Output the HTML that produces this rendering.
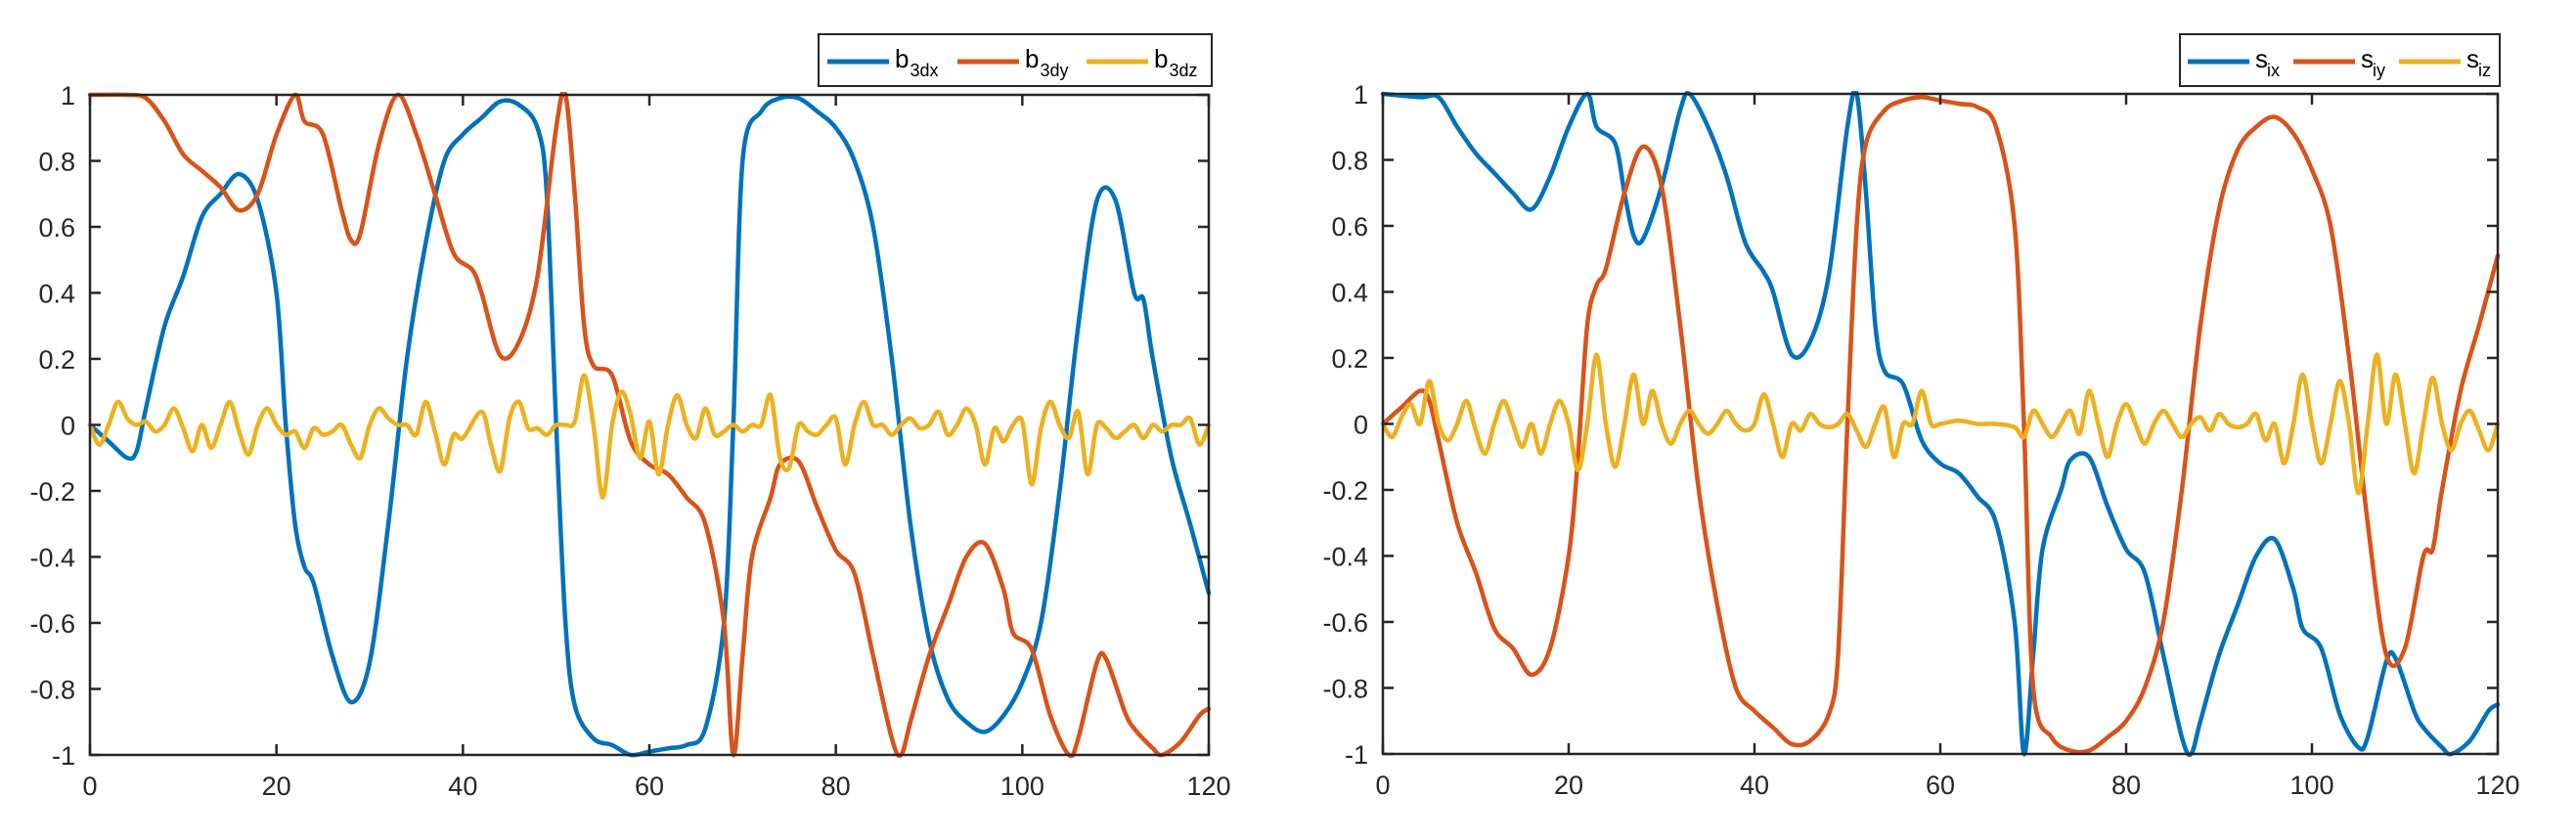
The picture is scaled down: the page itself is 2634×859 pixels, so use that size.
<!DOCTYPE html>
<html><head><meta charset="utf-8"><style>
html,body{margin:0;padding:0;background:#fff;}
svg{display:block;font-family:"Liberation Sans",sans-serif;}
</style></head><body>
<svg id="chart" width="2634" height="859" viewBox="0 0 2634 859" xmlns="http://www.w3.org/2000/svg"></svg>
<script>
const xTicks=[0,20,40,60,80,100,120];
const yTicks=[-1,-0.8,-0.6,-0.4,-0.2,0,0.2,0.4,0.6,0.8,1];
const yTickLabels=["-1","-0.8","-0.6","-0.4","-0.2","0","0.2","0.4","0.6","0.8","1"];
const b3dx=[[0,0],[2,-0.05],[4,-0.1],[5,-0.08],[6,0.05],[8,0.3],[10,0.45],[12,0.63],[14,0.7],[16,0.76],[18,0.68],[20,0.4],[21,0.0],[22,-0.3],[23,-0.43],[24,-0.48],[26,-0.7],[28,-0.84],[30,-0.72],[32,-0.3],[34,0.2],[36,0.55],[38,0.8],[40,0.88],[42,0.93],[44,0.98],[46,0.97],[48,0.9],[49,0.7],[50,0.0],[51,-0.6],[52,-0.85],[54,-0.95],[56,-0.97],[58,-1.0],[60,-0.99],[62,-0.98],[64,-0.97],[66,-0.92],[68,-0.6],[69,0.0],[70,0.8],[72,0.95],[74,0.99],[76,0.99],[78,0.95],[80,0.9],[82,0.8],[84,0.6],[86,0.2],[88,-0.3],[90,-0.65],[92,-0.83],[94,-0.9],[96,-0.93],[98,-0.88],[100,-0.78],[102,-0.6],[104,-0.2],[106,0.3],[108,0.68],[110,0.68],[112,0.4],[113,0.38],[114,0.2],[116,-0.1],[118,-0.3],[120,-0.51]];
const b3dy=[[0,1],[4,1],[6,0.99],[8,0.92],[10,0.82],[12,0.77],[14,0.72],[16,0.65],[18,0.7],[20,0.88],[22,1.0],[23,0.92],[25,0.88],[27,0.65],[28,0.56],[29,0.58],[31,0.85],[33,1.0],[35,0.88],[37,0.7],[39,0.52],[41,0.47],[42,0.4],[44,0.21],[46,0.25],[48,0.45],[50,0.9],[51,1.0],[52,0.7],[53,0.3],[54,0.18],[56,0.15],[58,-0.05],[60,-0.12],[62,-0.15],[64,-0.22],[66,-0.3],[68,-0.6],[69,-1.0],[70,-0.7],[71,-0.4],[73,-0.22],[74,-0.12],[76,-0.11],[78,-0.25],[80,-0.38],[82,-0.45],[84,-0.7],[86,-0.95],[87,-1.0],[88,-0.9],[90,-0.7],[92,-0.55],[94,-0.4],[96,-0.36],[98,-0.5],[99,-0.63],[101,-0.68],[103,-0.88],[105,-1.0],[106,-0.95],[108,-0.72],[109,-0.71],[111,-0.87],[112,-0.92],[114,-0.98],[115,-1.0],[117,-0.96],[119,-0.88],[120,-0.86]];
const b3dz=[[0,0],[1,-0.06],[2,0.0],[3,0.07],[4,0.02],[5,0.0],[6,0.01],[7,-0.02],[8,0.0],[9,0.05],[10,-0.01],[11,-0.08],[12,0.0],[13,-0.07],[14,0.0],[15,0.07],[16,-0.02],[17,-0.09],[18,0.0],[19,0.05],[20,0.0],[21,-0.03],[22,-0.02],[23,-0.07],[24,-0.01],[25,-0.03],[26,-0.02],[27,0.0],[28,-0.06],[29,-0.1],[30,0.0],[31,0.05],[32,0.02],[33,0.0],[34,0.0],[35,-0.03],[36,0.07],[37,-0.02],[38,-0.12],[39,-0.03],[40,-0.04],[42,0.04],[43,-0.06],[44,-0.14],[45,0.02],[46,0.07],[47,-0.01],[48,-0.01],[49,-0.03],[50,0.0],[51,0.0],[52,0.01],[53,0.15],[54,0.0],[55,-0.22],[56,0.0],[57,0.1],[58,0.03],[59,-0.1],[60,0.01],[61,-0.15],[62,0.0],[63,0.09],[64,0.0],[65,-0.04],[66,0.05],[67,-0.03],[68,-0.02],[69,0.0],[70,-0.02],[71,0.0],[72,0.0],[73,0.09],[74,-0.1],[75,-0.13],[76,0.0],[77,-0.02],[78,-0.03],[79,0.0],[80,0.02],[81,-0.12],[82,0.0],[83,0.07],[84,0.0],[85,0.0],[86,-0.03],[87,0.0],[88,0.02],[89,-0.01],[90,0.0],[91,0.04],[92,-0.03],[93,0.0],[94,0.05],[95,0.0],[96,-0.12],[97,-0.01],[98,-0.05],[99,0.0],[100,0.01],[101,-0.18],[102,-0.01],[103,0.07],[104,0.0],[105,-0.04],[106,0.04],[107,-0.15],[108,0.0],[109,-0.01],[110,-0.04],[111,-0.02],[112,0.0],[113,-0.04],[114,0.0],[115,-0.02],[116,0.0],[117,0.0],[118,0.02],[119,-0.06],[120,0.0]];
const six=[[0,1],[4,0.99],[6,0.99],[8,0.9],[10,0.82],[12,0.76],[14,0.7],[16,0.65],[18,0.75],[20,0.9],[22,1.0],[23,0.9],[25,0.85],[26,0.7],[27,0.57],[28,0.56],[30,0.72],[32,0.95],[33,1.0],[35,0.9],[37,0.75],[39,0.55],[41,0.46],[42,0.4],[44,0.21],[46,0.25],[48,0.45],[50,0.9],[51,1.0],[52,0.7],[53,0.3],[54,0.16],[56,0.12],[58,-0.05],[60,-0.12],[62,-0.15],[64,-0.22],[66,-0.3],[68,-0.6],[69,-1.0],[70,-0.7],[71,-0.38],[73,-0.2],[74,-0.11],[76,-0.1],[78,-0.25],[80,-0.38],[82,-0.45],[84,-0.7],[86,-0.95],[87,-1.0],[88,-0.9],[90,-0.7],[92,-0.55],[94,-0.4],[96,-0.35],[98,-0.5],[99,-0.62],[101,-0.68],[103,-0.88],[105,-0.98],[106,-0.95],[108,-0.72],[109,-0.71],[111,-0.87],[112,-0.92],[114,-0.98],[115,-1.0],[117,-0.96],[119,-0.87],[120,-0.85]];
const siy=[[0,0],[2,0.05],[4,0.1],[5,0.07],[6,-0.05],[8,-0.3],[10,-0.45],[12,-0.62],[14,-0.68],[16,-0.76],[18,-0.68],[20,-0.4],[21,-0.1],[22,0.3],[23,0.42],[24,0.47],[26,0.7],[28,0.84],[30,0.72],[32,0.3],[34,-0.2],[36,-0.55],[38,-0.8],[40,-0.87],[42,-0.92],[44,-0.97],[46,-0.96],[48,-0.88],[49,-0.7],[50,0.0],[51,0.6],[52,0.85],[54,0.95],[56,0.98],[58,0.99],[60,0.98],[62,0.97],[64,0.96],[66,0.9],[68,0.6],[69,0.0],[70,-0.8],[72,-0.95],[74,-0.99],[76,-0.99],[78,-0.95],[80,-0.9],[82,-0.8],[84,-0.6],[86,-0.2],[88,0.3],[90,0.65],[92,0.83],[94,0.9],[96,0.93],[98,0.88],[100,0.77],[102,0.6],[104,0.2],[106,-0.3],[108,-0.7],[110,-0.68],[112,-0.4],[113,-0.38],[114,-0.2],[116,0.1],[118,0.3],[120,0.51]];
const siz=[[0,0],[1,-0.04],[2,0.02],[3,0.06],[4,0.0],[5,0.13],[6,0.0],[7,-0.05],[8,0.0],[9,0.07],[10,-0.02],[11,-0.09],[12,0.0],[13,0.07],[14,0.0],[15,-0.07],[16,0.0],[17,-0.09],[18,0.0],[19,0.07],[20,0.0],[21,-0.14],[22,0.0],[23,0.21],[24,0.0],[25,-0.13],[26,0.0],[27,0.15],[28,0.0],[29,0.1],[30,0.0],[31,-0.06],[32,0.0],[33,0.04],[34,0.0],[35,-0.03],[36,0.0],[37,0.04],[38,0.0],[39,-0.02],[40,0.0],[41,0.09],[42,0.0],[43,-0.1],[44,0.0],[45,-0.02],[46,0.03],[47,0.0],[48,-0.01],[49,0.0],[50,0.03],[51,-0.02],[52,-0.07],[53,0.0],[54,0.05],[55,-0.1],[56,0.0],[57,0.0],[58,0.1],[59,0.0],[60,0.0],[62,0.01],[64,0.0],[66,0.0],[68,-0.01],[69,-0.04],[70,0.04],[71,0.0],[72,-0.04],[73,0.0],[74,0.04],[75,-0.03],[76,0.1],[77,0.0],[78,-0.1],[79,0.0],[80,0.06],[81,0.0],[82,-0.06],[83,0.0],[84,0.04],[85,0.0],[86,-0.04],[87,0.0],[88,0.02],[89,-0.02],[90,0.03],[91,0.0],[92,-0.01],[93,0.0],[94,0.03],[95,-0.05],[96,0.0],[97,-0.12],[98,0.0],[99,0.15],[100,0.0],[101,-0.12],[102,0.0],[103,0.13],[104,0.0],[105,-0.21],[106,0.0],[107,0.21],[108,0.0],[109,0.15],[110,0.0],[111,-0.15],[112,0.0],[113,0.14],[114,0.0],[115,-0.08],[116,0.0],[117,0.04],[118,-0.02],[119,-0.08],[120,0.0]];

const NS="http://www.w3.org/2000/svg";
const svg=document.getElementById('chart');
function mk(tag,attrs,parent){const e=document.createElementNS(NS,tag);for(const k in attrs)e.setAttribute(k,attrs[k]);(parent||svg).appendChild(e);return e;}
function smooth(pts){
  if(pts.length<2)return '';
  let d='M'+pts[0][0].toFixed(1)+','+pts[0][1].toFixed(1);
  for(let i=0;i<pts.length-1;i++){
    const p0=pts[i-1]||pts[i],p1=pts[i],p2=pts[i+1],p3=pts[i+2]||p2;
    const t=0.16;
    const c1x=p1[0]+(p2[0]-p0[0])*t,c1y=p1[1]+(p2[1]-p0[1])*t;
    const c2x=p2[0]-(p3[0]-p1[0])*t,c2y=p2[1]-(p3[1]-p1[1])*t;
    d+=' C'+c1x.toFixed(1)+','+c1y.toFixed(1)+' '+c2x.toFixed(1)+','+c2y.toFixed(1)+' '+p2[0].toFixed(1)+','+p2[1].toFixed(1);
  }
  return d;
}
const colors=['#0072BD','#D95319','#EDB120'];
function panel(cfg){
  const g=mk('g',{});
  
  
  const L=cfg.l,R=cfg.r,T=cfg.t,B=cfg.b;
  const sx=v=>L+(v-0)/(120-0)*(R-L);
  const sy=v=>B-(v+1)/2*(B-T);
  const defs=mk('defs',{},g);
  const cp=mk('clipPath',{id:cfg.name+'-clip'},defs);
  mk('rect',{x:L-3,y:T-3,width:R-L+6,height:B-T+6},cp);
  const sg=mk('g',{'clip-path':'url(#'+cfg.name+'-clip)'},g);
  cfg.series.forEach((s,i)=>{
    const p=mk('path',{d:smooth(s.data.map(q=>[sx(q[0]),sy(q[1])])),fill:'none',stroke:colors[i],'stroke-width':4.5,'stroke-linejoin':'round','stroke-linecap':'round'},sg);
    
    
  });
  const ax=mk('g',{stroke:'#262626','stroke-width':2.5,fill:'none'},g);
  
  
  mk('rect',{x:L,y:T,width:R-L,height:B-T},ax);
  xTicks.forEach(v=>{
    const x=sx(v);
    mk('line',{x1:x,y1:B,x2:x,y2:B-11},ax);
    mk('line',{x1:x,y1:T,x2:x,y2:T+11},ax);
    const t=mk('text',{x:x,y:B+41,'text-anchor':'middle','font-size':27,fill:'#262626'},g);
    t.textContent=String(v);
    
    
  });
  yTicks.forEach((v,i)=>{
    const y=sy(v);
    mk('line',{x1:L,y1:y,x2:L+11,y2:y},ax);
    mk('line',{x1:R,y1:y,x2:R-11,y2:y},ax);
    const t=mk('text',{x:L-15,y:y+10,'text-anchor':'end','font-size':27,fill:'#262626'},g);
    t.textContent=yTickLabels[i];
    
    
  });
  const lg=mk('g',{},g);
  
  
  mk('rect',{x:cfg.lg.x,y:35,width:cfg.lg.w,height:53,fill:'#fff',stroke:'#262626','stroke-width':2},lg);
  cfg.series.forEach((s,i)=>{
    const x0=cfg.lg.pos[i];
    const e=mk('g',{},lg);
    
    
    mk('line',{x1:x0,y1:63,x2:x0+63,y2:63,stroke:colors[i],'stroke-width':5},e);
    const t=mk('text',{x:x0+69,y:69,'font-size':26,fill:'#000'},e);
    t.textContent=s.main;
    const sub=mk('tspan',{dy:9,'font-size':18,dx:cfg.lg.dx},t);
    sub.textContent=s.sub;
  });
}
panel({name:'left-plot',l:92,r:1236,t:97,b:772,
  lg:{x:837,w:402,pos:[846,979,1111],dx:1},
  series:[{key:'b3dx',main:'b',sub:'3dx',data:b3dx},{key:'b3dy',main:'b',sub:'3dy',data:b3dy},{key:'b3dz',main:'b',sub:'3dz',data:b3dz}]});
panel({name:'right-plot',l:1414,r:2554,t:96,b:771,
  lg:{x:2229,w:327,pos:[2237,2345,2453],dx:-1},
  series:[{key:'six',main:'s',sub:'ix',data:six},{key:'siy',main:'s',sub:'iy',data:siy},{key:'siz',main:'s',sub:'iz',data:siz}]});
</script>
</body></html>
